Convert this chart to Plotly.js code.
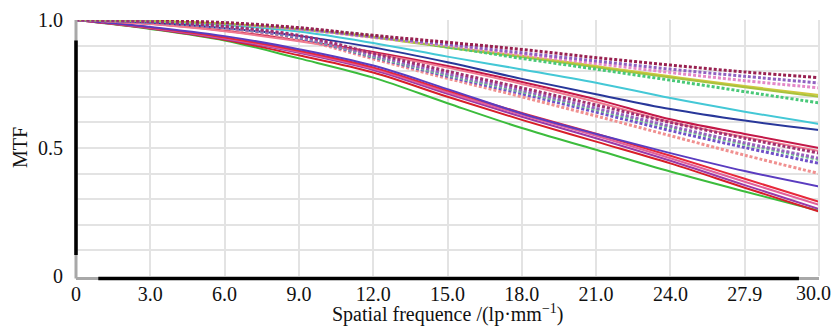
<!DOCTYPE html>
<html>
<head>
<meta charset="utf-8">
<script src="https://cdn.plot.ly/plotly-3.0.1.min.js"></script>
<style>html,body{margin:0;padding:0;background:#fff;}#chart{width:833px;height:327px;}</style>
</head>
<body>
<div id="chart"></div>
<script>
// Spatial frequency samples (lp/mm)
const freq = [0, 3, 6, 9, 12, 15, 18, 21, 24, 27, 30];

// Solid MTF curves
const solidGreen   = [1, 0.965, 0.92, 0.85, 0.775, 0.675, 0.578, 0.493, 0.408, 0.33, 0.255];
const solidRed     = [1, 0.967, 0.923, 0.862, 0.795, 0.70, 0.61, 0.525, 0.44, 0.345, 0.252];
const solidPurple  = [1, 0.968, 0.926, 0.872, 0.805, 0.712, 0.622, 0.538, 0.45, 0.355, 0.262];
const solidPink    = [1, 0.97, 0.929, 0.876, 0.81, 0.718, 0.63, 0.548, 0.46, 0.368, 0.278];
const solidRed2    = [1, 0.971, 0.932, 0.88, 0.815, 0.724, 0.637, 0.556, 0.47, 0.38, 0.29];
const solidViolet  = [1, 0.973, 0.937, 0.886, 0.822, 0.73, 0.635, 0.555, 0.48, 0.41, 0.35];
const solidCrimson = [1, 0.985, 0.958, 0.92, 0.875, 0.82, 0.758, 0.69, 0.612, 0.555, 0.50];
const solidRose    = [1, 0.984, 0.956, 0.917, 0.87, 0.814, 0.75, 0.68, 0.602, 0.543, 0.488];
const solidNavy    = [1, 0.99, 0.968, 0.938, 0.893, 0.835, 0.77, 0.71, 0.652, 0.607, 0.57];
const solidCyan    = [1, 0.994, 0.98, 0.955, 0.91, 0.857, 0.807, 0.755, 0.695, 0.642, 0.594];
const solidYellow  = [1, 0.996, 0.986, 0.965, 0.935, 0.895, 0.86, 0.82, 0.78, 0.742, 0.707];
const solidOlive   = [1, 0.996, 0.985, 0.963, 0.932, 0.892, 0.855, 0.815, 0.775, 0.737, 0.70];

// Dotted MTF curves
const dotMaroon    = [1, 0.997, 0.99, 0.97, 0.94, 0.913, 0.885, 0.853, 0.824, 0.797, 0.775];
const dotPurple    = [1, 0.997, 0.988, 0.967, 0.935, 0.905, 0.872, 0.84, 0.808, 0.78, 0.754];
const dotPink      = [1, 0.996, 0.986, 0.964, 0.932, 0.9, 0.865, 0.83, 0.795, 0.763, 0.735];
const dotGreen     = [1, 0.996, 0.986, 0.966, 0.938, 0.895, 0.85, 0.808, 0.765, 0.72, 0.676];
const dotMidMaroon = [1, 0.993, 0.975, 0.94, 0.87, 0.80, 0.735, 0.668, 0.60, 0.538, 0.48];
const dotMidPurple = [1, 0.992, 0.972, 0.935, 0.862, 0.79, 0.725, 0.655, 0.585, 0.52, 0.46];
const dotMidGreen  = [1, 0.992, 0.972, 0.933, 0.858, 0.785, 0.72, 0.65, 0.58, 0.515, 0.455];
const dotMidViolet = [1, 0.991, 0.97, 0.93, 0.855, 0.78, 0.712, 0.64, 0.568, 0.502, 0.44];
const dotMidSalmon = [1, 0.99, 0.967, 0.925, 0.848, 0.772, 0.70, 0.625, 0.548, 0.472, 0.40];

// Axis tick labels
const xTickVals = [0, 3, 6, 9, 12, 15, 18, 21, 24, 27, 30];
const xTickText = ["0", "3.0", "6.0", "9.0", "12.0", "15.0", "18.0", "21.0", "24.0", "27.9", "30.0"];
const yTickVals = [0, 0.5, 1.0];
const yTickText = ["0", "0.5", "1.0"];

const solids = [
  [solidGreen, '#3cbc3c'], [solidRed, '#d81e28'], [solidPurple, '#9a3aa8'],
  [solidPink, '#e2609a'], [solidRed2, '#e8283a'], [solidViolet, '#5a3cc0'],
  [solidCrimson, '#c41848'], [solidRose, '#f07a90'], [solidNavy, '#28379a'],
  [solidCyan, '#44c8d6'], [solidYellow, '#cfc840'], [solidOlive, '#a9c23c']
];
const dots = [
  [dotGreen, '#48c878'], [dotPink, '#e488c8'], [dotPurple, '#9060c0'], [dotMaroon, '#982050'],
  [dotMidSalmon, '#f09090'], [dotMidViolet, '#7050c8'], [dotMidGreen, '#70c890'],
  [dotMidPurple, '#9a60c0'], [dotMidMaroon, '#a03070']
];

const traces = [];
solids.forEach(([ys, c]) => traces.push({
  x: freq, y: ys, type: 'scatter', mode: 'lines',
  line: {color: c, width: 2, shape: 'spline', smoothing: 1}, hoverinfo: 'skip'
}));
dots.forEach(([ys, c]) => traces.push({
  x: freq, y: ys, type: 'scatter', mode: 'lines',
  line: {color: c, width: 3, dash: '3px,2px', shape: 'spline', smoothing: 1}, hoverinfo: 'skip'
}));

const family = '"Liberation Serif", "DejaVu Serif", serif';
const font = {family: family, size: 20, color: '#111'};
const titleFont = {family: family, size: 20, color: '#111'};

// the last x tick label is drawn just inside the figure edge
const nX = xTickVals.length;
const lastTick = {
  text: xTickText[nX - 1], xref: 'x', yref: 'paper', x: xTickVals[nX - 1], y: 0,
  xshift: -6, yshift: -17, xanchor: 'center', yanchor: 'middle', showarrow: false, font: font
};

const layout = {
  width: 833, height: 327,
  margin: {l: 76, r: 14, t: 20, b: 51},
  paper_bgcolor: '#fff', plot_bgcolor: '#fff',
  showlegend: false,
  font: font,
  xaxis: {
    range: [0, 30], tickvals: xTickVals.slice(0, nX - 1), ticktext: xTickText.slice(0, nX - 1),
    showgrid: true, gridcolor: '#e3e3e3', gridwidth: 2,
    minor: {tickvals: [xTickVals[nX - 1]], showgrid: true, gridcolor: '#e3e3e3', gridwidth: 2, ticks: ''},
    zeroline: false, showline: false, ticks: '', ticklabelstandoff: 4,
    tickfont: font, fixedrange: true
  },
  yaxis: {
    range: [0, 1], tickvals: yTickVals, ticktext: yTickText,
    showgrid: true, gridcolor: '#e3e3e3', gridwidth: 2,
    minor: {dtick: 0.1, tick0: 0, showgrid: true, gridcolor: '#e3e3e3', gridwidth: 2, ticks: ''},
    zeroline: false, showline: false, ticks: '', ticklabelstandoff: 12,
    tickfont: font, fixedrange: true
  },
  shapes: [
    {type: 'line', xref: 'paper', yref: 'paper', x0: 1, x1: 1, y0: 0, y1: 1, line: {color: '#e3e3e3', width: 2}},
    {type: 'line', xref: 'paper', yref: 'paper', x0: 0, x1: 0, y0: -0.01, y1: 1, line: {color: '#a8a8a8', width: 3}},
    {type: 'line', xref: 'paper', yref: 'paper', x0: 0, x1: 0, y0: 0.082, y1: 0.92, line: {color: '#000', width: 3.5}},
    {type: 'line', xref: 'paper', yref: 'paper', x0: 0, x1: 1, y0: -0.01, y1: -0.01, line: {color: '#a8a8a8', width: 3}},
    {type: 'line', xref: 'paper', yref: 'paper', x0: 0.03, x1: 0.973, y0: -0.01, y1: -0.01, line: {color: '#000', width: 3.5}}
  ],
  annotations: [
    lastTick,
    {text: 'Spatial frequence /(lp·mm<sup>−1</sup>)', xref: 'paper', yref: 'paper',
     x: 0.5, y: 0, yshift: -37, xanchor: 'center', yanchor: 'middle', showarrow: false, font: titleFont},
    {text: 'MTF', xref: 'paper', yref: 'paper', x: 0, xshift: -56, y: 0.5,
     xanchor: 'center', yanchor: 'middle', textangle: -90, showarrow: false, font: font}
  ]
};

Plotly.newPlot('chart', traces, layout, {displayModeBar: false, staticPlot: true});
</script>
</body>
</html>
